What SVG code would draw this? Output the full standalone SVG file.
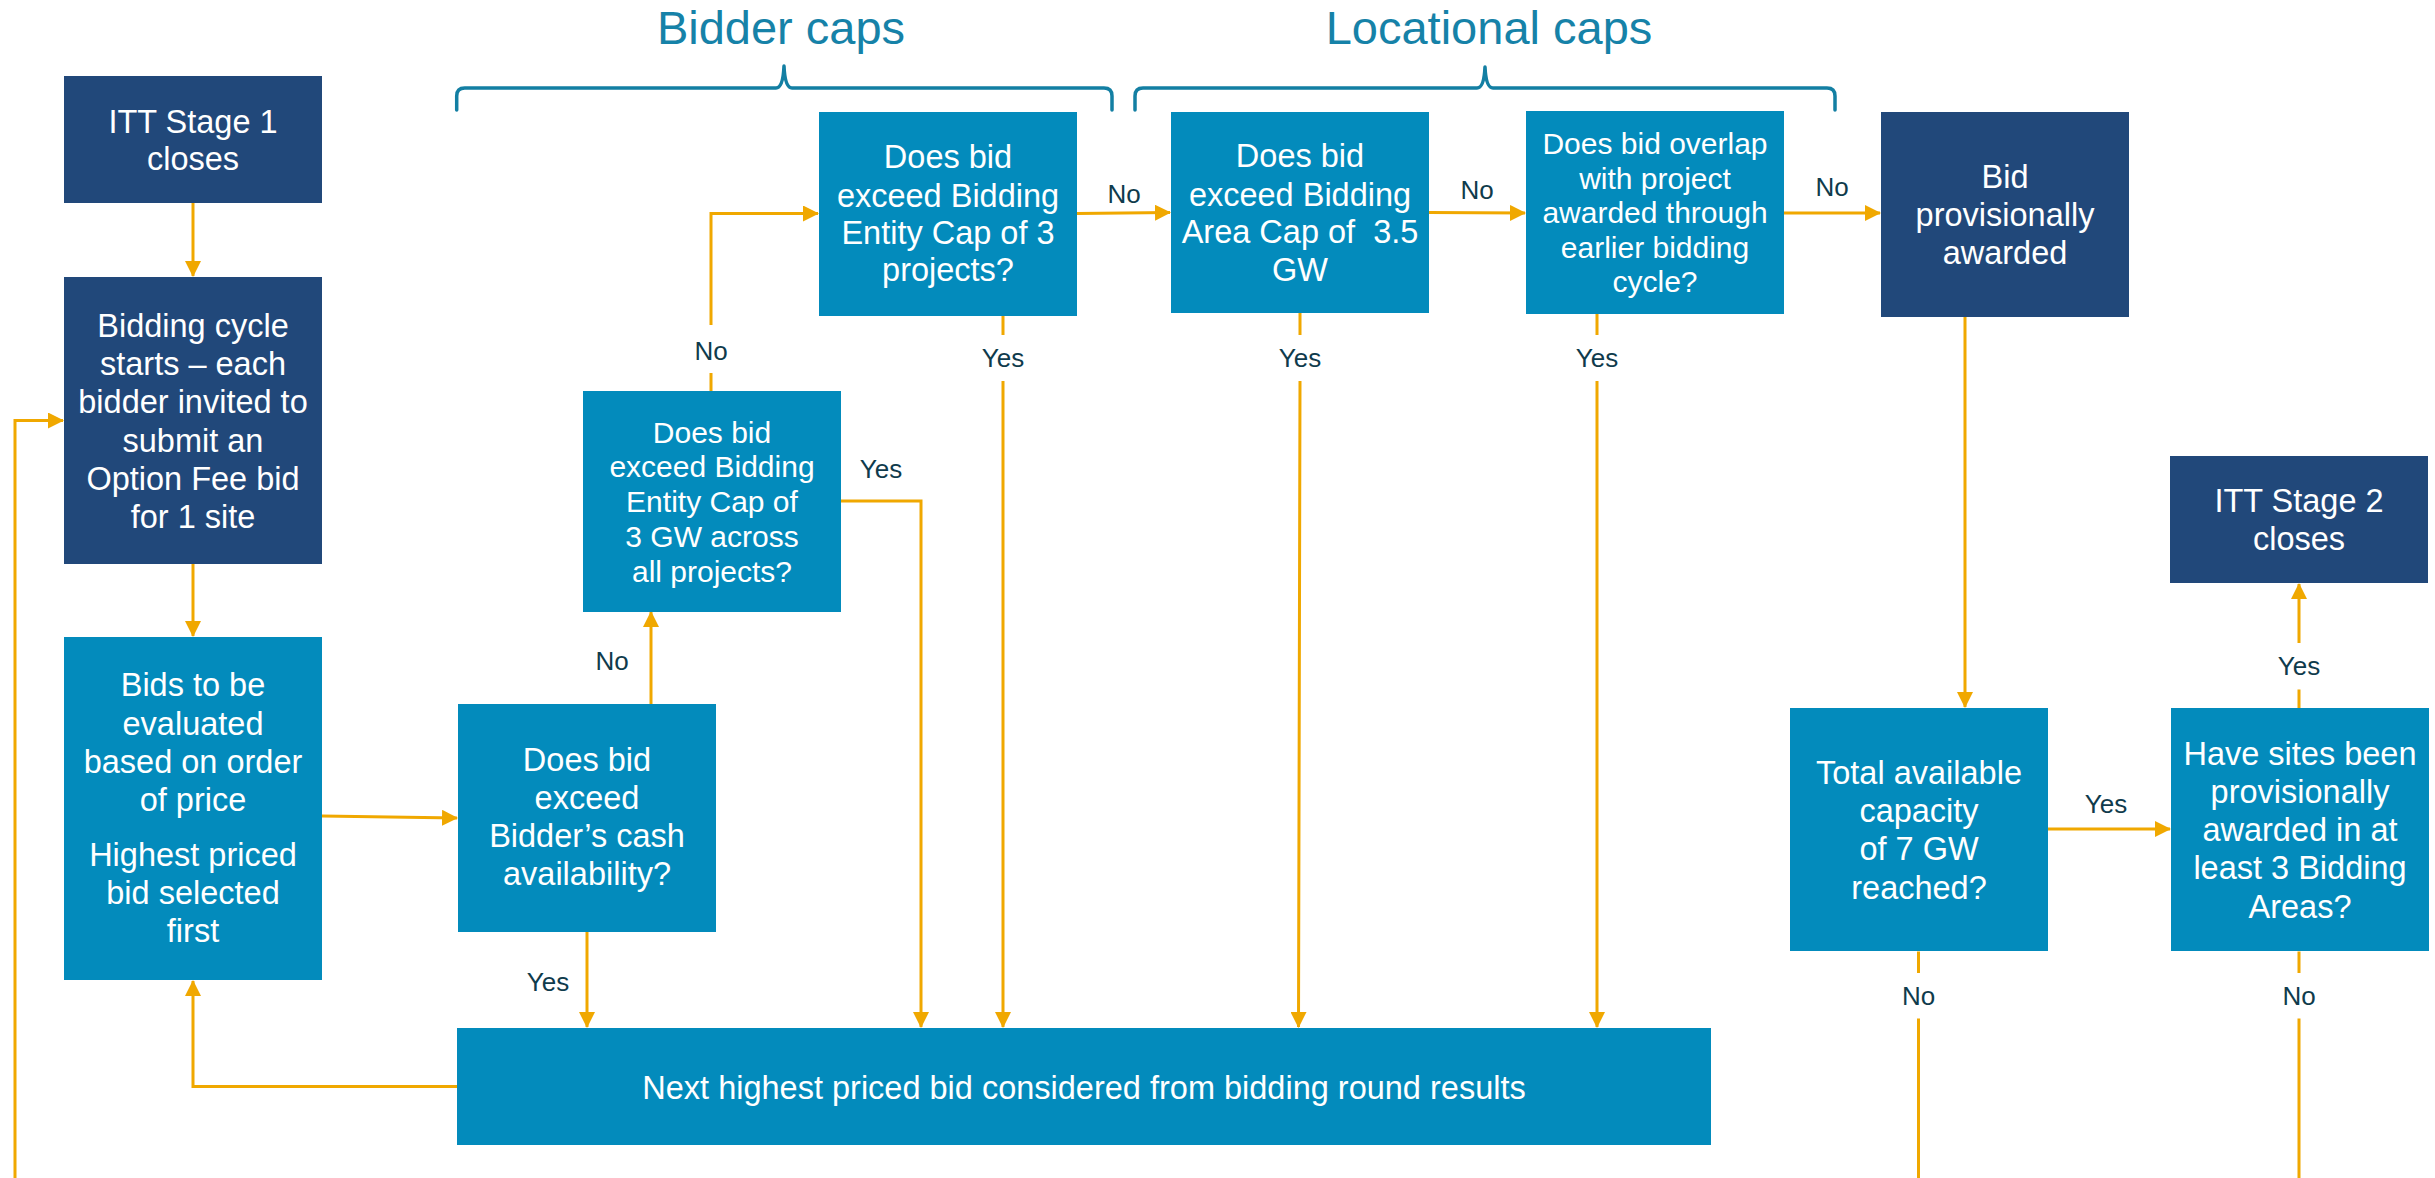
<svg xmlns="http://www.w3.org/2000/svg" width="2435" height="1178" viewBox="0 0 2435 1178">
<style>
.navy{fill:#21487A}
.teal{fill:#038BBC}
.t{font-family:"Liberation Sans",Arial,Helvetica,sans-serif;fill:#FFFFFF;text-anchor:middle;font-size:32.5px}
.s{font-size:30px}
.lbl{font-family:"Liberation Sans",Arial,Helvetica,sans-serif;fill:#0F3B4C;text-anchor:middle;font-size:26px}
.head{font-family:"Liberation Sans",Arial,Helvetica,sans-serif;fill:#1682A8;text-anchor:middle;font-size:47px}
.brace{fill:none;stroke:#137FA3;stroke-width:3.5;stroke-linejoin:round;stroke-linecap:round}
.c{fill:none;stroke:#F0A800;stroke-width:3}
.a{marker-end:url(#ah)}
</style>
<defs>
<marker id="ah" markerUnits="userSpaceOnUse" markerWidth="16" markerHeight="16" refX="15" refY="8" orient="auto">
<path d="M0,0 L16,8 L0,16 Z" fill="#F0A800"/>
</marker>
</defs>
<rect width="2435" height="1178" fill="#FFFFFF"/>

<g id="headings">
<text class="head" x="781" y="44">Bidder caps</text>
<path class="brace" d="M456.7,110 L456.7,96 Q456.7,88 464.7,88 L776,88 Q783,88 784,66 Q785,88 792,88 L1104,88 Q1112,88 1112,96 L1112,110"/>
<text class="head" x="1489" y="44">Locational caps</text>
<path class="brace" d="M1135,110 L1135,96 Q1135,88 1143,88 L1477,88 Q1484,88 1485,67 Q1486,88 1493,88 L1827,88 Q1835,88 1835,96 L1835,110"/>
</g>

<g id="connectors">
<path class="c a" d="M193,203 V276"/>
<path class="c a" d="M193,564 V636"/>
<path class="c a" d="M15,1178 V420.5 H63"/>
<path class="c a" d="M322,816 L457,818"/>
<path class="c a" d="M651,704 V612"/>
<path class="c a" d="M587,932 V1027"/>
<path class="c a" d="M711,391 V373 M711,325 V213.5 H818"/>
<path class="c a" d="M841,501 H921 V1027"/>
<path class="c a" d="M1077,213.5 L1170,212.5"/>
<path class="c a" d="M1003,316 V335 M1003,381 V1027"/>
<path class="c a" d="M1429,212.5 L1525,213"/>
<path class="c a" d="M1300,313 V335 M1300,381 L1298.5,1027"/>
<path class="c a" d="M1784,213 H1880"/>
<path class="c a" d="M1597,314 V335 M1597,381 V1027"/>
<path class="c a" d="M1965,317 V707"/>
<path class="c a" d="M2048,829 H2170"/>
<path class="c a" d="M2299,708 V689.5 M2299,643 V584"/>
<path class="c" d="M1918.5,951.5 V973 M1918.5,1018.6 V1178"/>
<path class="c" d="M2299,951.5 V973 M2299,1018.6 V1178"/>
<path class="c a" d="M457,1086.5 H193 V981"/>
<text class="lbl" x="612" y="670">No</text>
<text class="lbl" x="548" y="991">Yes</text>
<text class="lbl" x="711" y="360">No</text>
<text class="lbl" x="881" y="478">Yes</text>
<text class="lbl" x="1124" y="203">No</text>
<text class="lbl" x="1003" y="367">Yes</text>
<text class="lbl" x="1477" y="199">No</text>
<text class="lbl" x="1300" y="367">Yes</text>
<text class="lbl" x="1832" y="196">No</text>
<text class="lbl" x="1597" y="367">Yes</text>
<text class="lbl" x="2106" y="813">Yes</text>
<text class="lbl" x="2299" y="675">Yes</text>
<text class="lbl" x="1918.5" y="1005">No</text>
<text class="lbl" x="2299" y="1005">No</text>
</g>

<g id="itt1">
<rect class="navy" x="64" y="76" width="258" height="127"/>
<text class="t" x="193" y="133">ITT Stage 1</text>
<text class="t" x="193" y="170">closes</text>
</g>

<g id="bidding-cycle">
<rect class="navy" x="64" y="277" width="258" height="287"/>
<text class="t" x="193" y="337">Bidding cycle</text>
<text class="t" x="193" y="375">starts – each</text>
<text class="t" x="193" y="413">bidder invited to</text>
<text class="t" x="193" y="452">submit an</text>
<text class="t" x="193" y="490">Option Fee bid</text>
<text class="t" x="193" y="528">for 1 site</text>
</g>

<g id="bids-evaluated">
<rect class="teal" x="64" y="637" width="258" height="343"/>
<text class="t" x="193" y="696">Bids to be</text>
<text class="t" x="193" y="734.5">evaluated</text>
<text class="t" x="193" y="772.6">based on order</text>
<text class="t" x="193" y="810.7">of price</text>
<text class="t" x="193" y="866">Highest priced</text>
<text class="t" x="193" y="904">bid selected</text>
<text class="t" x="193" y="942">first</text>
</g>

<g id="cash-check">
<rect class="teal" x="458" y="704" width="258" height="228"/>
<text class="t" x="587" y="770.7">Does bid</text>
<text class="t" x="587" y="809">exceed</text>
<text class="t" x="587" y="847">Bidder’s cash</text>
<text class="t" x="587" y="885">availability?</text>
</g>

<g id="entity-gw-cap">
<rect class="teal" x="583" y="391" width="258" height="221"/>
<text class="t s" x="712" y="442.7">Does bid</text>
<text class="t s" x="712" y="477">exceed Bidding</text>
<text class="t s" x="712" y="511.7">Entity Cap of</text>
<text class="t s" x="712" y="546.7">3 GW across</text>
<text class="t s" x="712" y="581.7">all projects?</text>
</g>

<g id="entity-project-cap">
<rect class="teal" x="819" y="112" width="258" height="204"/>
<text class="t" x="948" y="168">Does bid</text>
<text class="t" x="948" y="206.5">exceed Bidding</text>
<text class="t" x="948" y="243.5">Entity Cap of 3</text>
<text class="t" x="948" y="281">projects?</text>
</g>

<g id="area-cap">
<rect class="teal" x="1171" y="112" width="258" height="201"/>
<text class="t" x="1300" y="167">Does bid</text>
<text class="t" x="1300" y="206">exceed Bidding</text>
<text class="t" x="1300" y="243" style="white-space:pre">Area Cap of  3.5</text>
<text class="t" x="1300" y="281">GW</text>
</g>

<g id="overlap">
<rect class="teal" x="1526" y="111" width="258" height="203"/>
<text class="t s" x="1655" y="154">Does bid overlap</text>
<text class="t s" x="1655" y="189">with project</text>
<text class="t s" x="1655" y="223">awarded through</text>
<text class="t s" x="1655" y="257.5">earlier bidding</text>
<text class="t s" x="1655" y="292">cycle?</text>
</g>

<g id="provisionally-awarded">
<rect class="navy" x="1881" y="112" width="248" height="205"/>
<text class="t" x="2005" y="187.5">Bid</text>
<text class="t" x="2005" y="226">provisionally</text>
<text class="t" x="2005" y="264">awarded</text>
</g>

<g id="itt2">
<rect class="navy" x="2170" y="456" width="258" height="127"/>
<text class="t" x="2299" y="512">ITT Stage 2</text>
<text class="t" x="2299" y="550">closes</text>
</g>

<g id="total-capacity">
<rect class="teal" x="1790" y="708" width="258" height="243"/>
<text class="t" x="1919" y="784">Total available</text>
<text class="t" x="1919" y="822">capacity</text>
<text class="t" x="1919" y="860">of 7 GW</text>
<text class="t" x="1919" y="898.5">reached?</text>
</g>

<g id="bidding-areas">
<rect class="teal" x="2171" y="708" width="258" height="243"/>
<text class="t" x="2300" y="765">Have sites been</text>
<text class="t" x="2300" y="803">provisionally</text>
<text class="t" x="2300" y="841">awarded in at</text>
<text class="t" x="2300" y="879">least 3 Bidding</text>
<text class="t" x="2300" y="917.5">Areas?</text>
</g>

<g id="next-bid">
<rect class="teal" x="457" y="1028" width="1254" height="117"/>
<text class="t" x="1084" y="1098.7">Next highest priced bid considered from bidding round results</text>
</g>
</svg>
